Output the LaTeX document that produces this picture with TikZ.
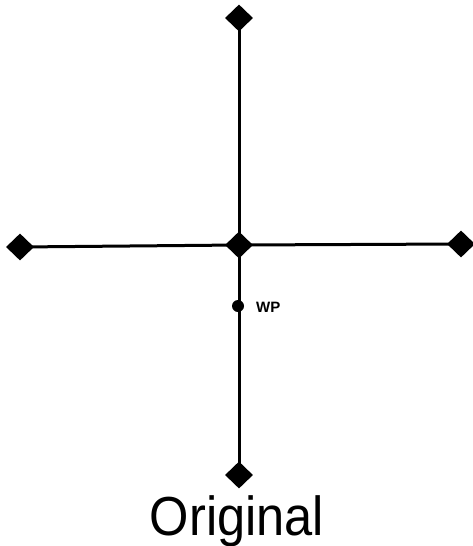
\documentclass[tikz,border=0pt]{standalone}
\usepackage{fontspec}
\setmainfont{Liberation Sans}
\usetikzlibrary{shapes.geometric}
\begin{document}
\begin{tikzpicture}[x=1pt,y=-1pt,
  endpt/.style={diamond,fill=black,draw=none,inner sep=0pt,minimum width=28pt,minimum height=27pt},
  wpdot/.style={circle,fill=black,inner sep=0pt,minimum size=12pt},
  seg/.style={line width=3pt}]
\useasboundingbox (0,0) rectangle (473,546);
\node[endpt] (top) at (239,18) {};
\node[endpt] (ctr) at (239,245) {};
\node[endpt] (left) at (20,247) {};
\node[endpt] (right) at (461,244) {};
\node[endpt] (bot) at (239,475) {};
\node[wpdot] (wp) at (238,306) {};
\draw[seg] (top.center) -- (bot.center);
\draw[seg] (left.center) -- (ctr.center) -- (right.center);
\node[anchor=west,font=\bfseries\fontsize{15}{15}\selectfont,inner sep=0pt] (wplabel) at (256,307) {WP};
\node[anchor=base,font=\fontsize{55}{55}\selectfont,inner sep=0pt,xscale=0.92] (title) at (237,535) {Original};
\end{tikzpicture}
\end{document}
